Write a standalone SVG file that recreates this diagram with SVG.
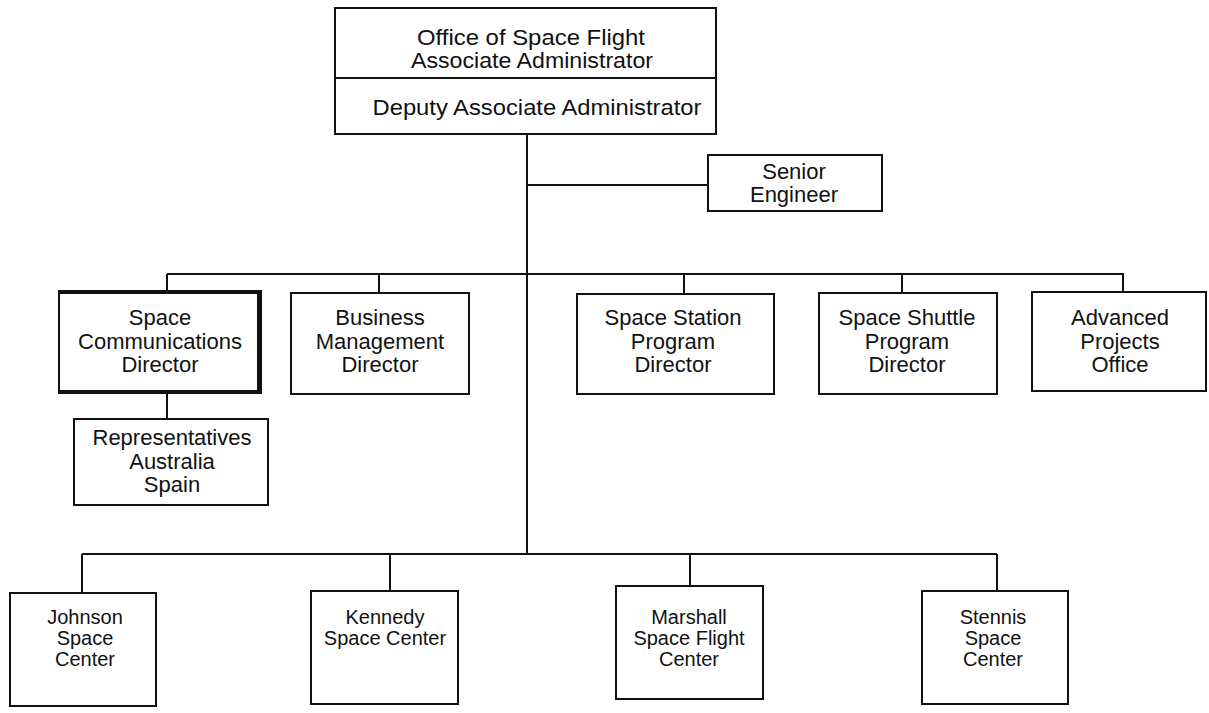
<svg xmlns="http://www.w3.org/2000/svg" width="1209" height="713" viewBox="0 0 1209 713">
<style>
.box{fill:#fff;stroke:#111;stroke-width:2}
.ln{fill:none;stroke:#111;stroke-width:2}
text{font-family:"Liberation Sans",Arial,sans-serif;font-size:22px;fill:#111;text-anchor:middle}
.sm{font-size:20px}
</style>
<rect width="1209" height="713" fill="#fff"/>
<g id="connectors" class="ln">
<path d="M527 134V554"/>
<path d="M527 185H708"/>
<path d="M167 274H1124"/>
<path d="M167 274V292M379 274V293M684 274V294M902 274V293M1123 274V292"/>
<path d="M167 392V419"/>
<path d="M82 554H997"/>
<path d="M82 554V593M390 554V591M690 554V586M997 554V591"/>
</g>
<g id="office">
<rect class="box" x="335" y="8" width="381" height="126"/>
<line class="ln" x1="335" y1="78" x2="716" y2="78"/>
<text x="531" y="45" textLength="228" lengthAdjust="spacingAndGlyphs">Office of Space Flight</text>
<text x="532" y="68" textLength="242" lengthAdjust="spacingAndGlyphs">Associate Administrator</text>
<text x="537" y="115" textLength="329" lengthAdjust="spacingAndGlyphs">Deputy Associate Administrator</text>
</g>
<g id="senior">
<rect class="box" x="708" y="155" width="174" height="56"/>
<text x="794" y="179">Senior</text>
<text x="794" y="202">Engineer</text>
</g>
<g id="spacecomm">
<rect class="box" x="59" y="292" width="199" height="100" stroke-width="2.5"/>
<path d="M58 292H260V392H58" fill="none" stroke="#111" stroke-width="4"/>
<text x="160" y="325">Space</text>
<text x="160" y="349">Communications</text>
<text x="160" y="372">Director</text>
</g>
<g id="business">
<rect class="box" x="291" y="293" width="178" height="101"/>
<text x="380" y="325">Business</text>
<text x="380" y="349">Management</text>
<text x="380" y="372">Director</text>
</g>
<g id="reps">
<rect class="box" x="74" y="419" width="194" height="86"/>
<text x="172" y="445">Representatives</text>
<text x="172" y="469">Australia</text>
<text x="172" y="492">Spain</text>
</g>
<g id="station">
<rect class="box" x="577" y="294" width="197" height="100"/>
<text x="673" y="325">Space Station</text>
<text x="673" y="349">Program</text>
<text x="673" y="372">Director</text>
</g>
<g id="shuttle">
<rect class="box" x="819" y="293" width="178" height="101"/>
<text x="907" y="325">Space Shuttle</text>
<text x="907" y="349">Program</text>
<text x="907" y="372">Director</text>
</g>
<g id="advanced">
<rect class="box" x="1032" y="292" width="174" height="99"/>
<text x="1120" y="325">Advanced</text>
<text x="1120" y="349">Projects</text>
<text x="1120" y="372">Office</text>
</g>
<g id="johnson">
<rect class="box" x="10" y="593" width="146" height="113"/>
<text class="sm" x="85" y="624">Johnson</text>
<text class="sm" x="85" y="645">Space</text>
<text class="sm" x="85" y="666">Center</text>
</g>
<g id="kennedy">
<rect class="box" x="311" y="591" width="147" height="113"/>
<text class="sm" x="385" y="624">Kennedy</text>
<text class="sm" x="385" y="645">Space Center</text>
</g>
<g id="marshall">
<rect class="box" x="616" y="586" width="147" height="113"/>
<text class="sm" x="689" y="624">Marshall</text>
<text class="sm" x="689" y="645">Space Flight</text>
<text class="sm" x="689" y="666">Center</text>
</g>
<g id="stennis">
<rect class="box" x="922" y="591" width="146" height="113"/>
<text class="sm" x="993" y="624">Stennis</text>
<text class="sm" x="993" y="645">Space</text>
<text class="sm" x="993" y="666">Center</text>
</g>
</svg>
